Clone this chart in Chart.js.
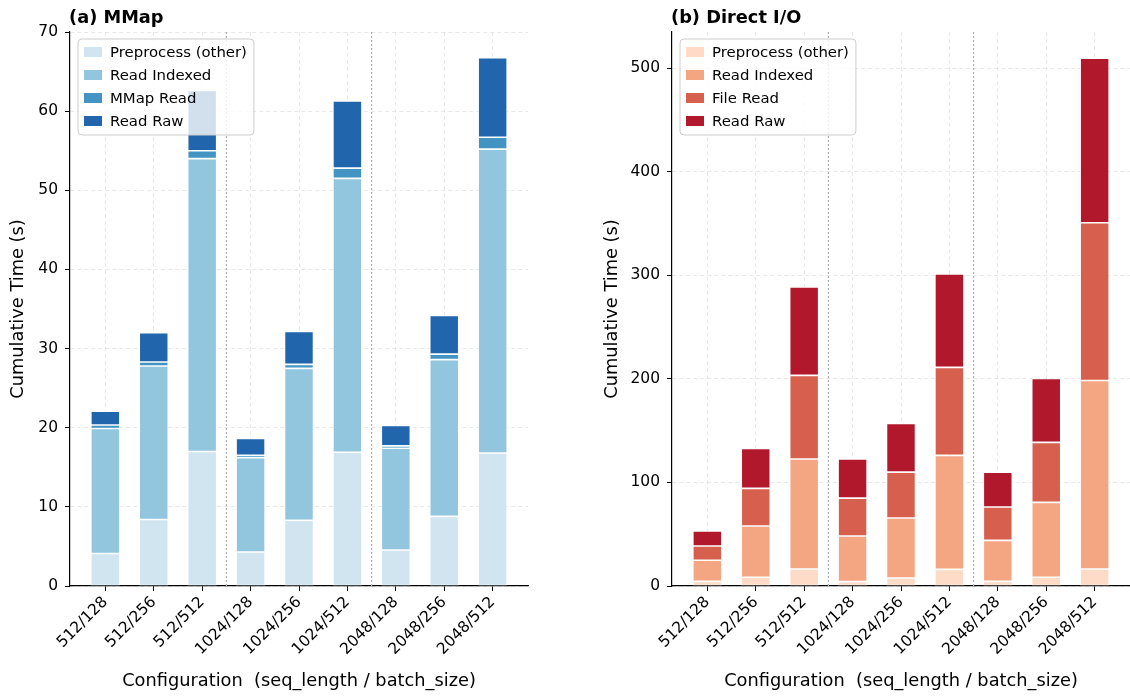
<!DOCTYPE html>
<html>
<head>
<meta charset="utf-8">
<script src="https://cdn.jsdelivr.net/npm/chart.js@4.4.0/dist/chart.umd.min.js"></script>
<style>
  body { margin: 0; background: #fff; }
  .panel { position: absolute; top: 0; }
</style>
</head>
<body>
<canvas id="mmapChart" class="panel" width="565" height="696" style="left:0"></canvas>
<canvas id="directChart" class="panel" width="565" height="696" style="left:565px"></canvas>
<script>
// Configurations (seq_length / batch_size)
const configs = ['512/128', '512/256', '512/512', '1024/128', '1024/256', '1024/512', '2048/128', '2048/256', '2048/512'];

// (a) MMap - seconds per stage
const mmapPreprocess = [4.1, 8.4, 17.0, 4.3, 8.3, 16.9, 4.55, 8.8, 16.8];
const mmapReadIndexed = [15.8, 19.4, 37.0, 11.9, 19.2, 34.6, 12.85, 19.8, 38.4];
const mmapMmapRead = [0.45, 0.5, 1.0, 0.3, 0.5, 1.3, 0.3, 0.7, 1.5];
const mmapReadRaw = [1.75, 3.7, 7.6, 2.15, 4.15, 8.5, 2.6, 4.9, 10.05];

// (b) Direct I/O - seconds per stage
const directPreprocess = [4.5, 8.4, 16.4, 4.2, 7.7, 16.1, 4.5, 8.4, 16.4];
const directReadIndexed = [20.3, 49.5, 106.2, 44.1, 57.9, 110.0, 39.6, 72.4, 182.1];
const directFileRead = [13.8, 36.4, 80.8, 36.6, 44.4, 85.0, 32.2, 57.9, 152.3];
const directReadRaw = [14.5, 38.6, 85.5, 37.7, 47.0, 90.3, 33.7, 61.8, 158.9];

// group separators (between seq_length groups)
const groupBreaks = [2.5, 5.5];

const FONT = "'DejaVu Sans', sans-serif";
const GRID = 'rgba(190, 190, 190, 0.45)';

// title, group separators and in-plot legend
const panelPlugin = {
    id: 'panel',
    afterDatasetsDraw(chart, args, opts) {
        const ctx = chart.ctx;
        const area = chart.chartArea;
        const x = chart.scales.x;
        ctx.save();
        ctx.strokeStyle = '#b0b0b0';
        ctx.lineWidth = 1.2;
        ctx.setLineDash([2, 2]);
        groupBreaks.forEach(b => {
            const px = x.getPixelForValue(b);
            ctx.beginPath();
            ctx.moveTo(px, area.top);
            ctx.lineTo(px, area.bottom);
            ctx.stroke();
        });
        ctx.restore();
    },
    afterDraw(chart, args, opts) {
        const ctx = chart.ctx;
        const area = chart.chartArea;
        ctx.save();
        ctx.fillStyle = '#000';
        ctx.font = 'bold 17.8px ' + FONT;
        ctx.textAlign = 'left';
        ctx.textBaseline = 'alphabetic';
        ctx.fillText(opts.title, area.left - 1, 23);

        // legend box
        ctx.font = '14.9px ' + FONT;
        const items = chart.data.datasets;
        let maxW = 0;
        items.forEach(d => { maxW = Math.max(maxW, ctx.measureText(d.label).width); });
        const bx = area.left + 8, by = area.top + 7;
        const bw = 32 + maxW + 7, bh = 96;
        ctx.beginPath();
        ctx.roundRect(bx, by, bw, bh, 4);
        ctx.fillStyle = 'rgba(255, 255, 255, 0.8)';
        ctx.fill();
        ctx.strokeStyle = '#cccccc';
        ctx.lineWidth = 1;
        ctx.stroke();
        ctx.textBaseline = 'middle';
        items.forEach((d, i) => {
            const cy = by + 13 + i * 23;
            ctx.fillStyle = d.backgroundColor;
            ctx.fillRect(bx + 6, cy - 5, 18, 10);
            ctx.fillStyle = '#000';
            ctx.fillText(d.label, bx + 32, cy + 1);
        });
        ctx.restore();
    }
};

function makeChart(canvasId, title, labels, series, colors, yMax, yStep, yAxisWidth, titlePad, padRight) {
    const ctx = document.getElementById(canvasId).getContext('2d');
    return new Chart(ctx, {
        type: 'bar',
        data: {
            labels: configs.map((c, i) => i),
            datasets: series.map((s, i) => ({
                label: labels[i],
                data: s,
                backgroundColor: colors[i],
                borderColor: '#ffffff',
                borderWidth: 0.8,
                borderSkipped: false,
                barPercentage: 0.6,
                categoryPercentage: 1.0
            }))
        },
        options: {
            responsive: false,
            animation: false,
            events: [],
            layout: { padding: { top: 32, right: padRight, bottom: 0, left: 0 } },
            plugins: {
                legend: { display: false },
                tooltip: { enabled: false },
                panel: { title: title }
            },
            scales: {
                x: {
                    type: 'linear',
                    stacked: true,
                    offset: false,
                    min: -0.73,
                    max: 8.73,
                    z: 1,
                    afterFit: scale => { scale.height = 110; },
                    grid: { offset: false, color: GRID, lineWidth: 0.8, tickColor: '#000', tickLength: 5, tickWidth: 1 },
                    border: { color: '#000', width: 1.2, dash: [4, 3] },
                    ticks: {
                        stepSize: 1,
                        includeBounds: false,
                        minRotation: 45,
                        maxRotation: 45,
                        padding: 2,
                        color: '#000',
                        font: { family: FONT, size: 15.5 },
                        callback: value => configs[value]
                    },
                    title: {
                        display: true,
                        text: 'Configuration  (seq_length / batch_size)',
                        color: '#000',
                        font: { family: FONT, size: 17.8 },
                        padding: { top: 4, bottom: 4.3 }
                    }
                },
                y: {
                    stacked: true,
                    min: 0,
                    max: yMax,
                    z: 1,
                    afterFit: scale => { scale.width = yAxisWidth; },
                    grid: { color: GRID, lineWidth: 0.8, tickColor: '#000', tickLength: 5, tickWidth: 1 },
                    border: { color: '#000', width: 1.2, dash: [4, 3] },
                    ticks: {
                        stepSize: yStep,
                        includeBounds: false,
                        padding: 7,
                        color: '#000',
                        font: { family: FONT, size: 15.5 }
                    },
                    title: {
                        display: true,
                        text: 'Cumulative Time (s)',
                        color: '#000',
                        font: { family: FONT, size: 17.8 },
                        padding: { top: titlePad, bottom: 4 }
                    }
                }
            }
        },
        plugins: [panelPlugin]
    });
}

document.addEventListener('DOMContentLoaded', function () {
    makeChart('mmapChart', '(a) MMap',
        ['Preprocess (other)', 'Read Indexed', 'MMap Read', 'Read Raw'],
        [mmapPreprocess, mmapReadIndexed, mmapMmapRead, mmapReadRaw],
        ['#d1e5f0', '#92c5de', '#4393c3', '#2166ac'],
        70, 10, 70, 7.3, 37);

    makeChart('directChart', '(b) Direct I/O',
        ['Preprocess (other)', 'Read Indexed', 'File Read', 'Read Raw'],
        [directPreprocess, directReadIndexed, directFileRead, directReadRaw],
        ['#fddbc7', '#f4a582', '#d6604d', '#b2182b'],
        535, 100, 107, 36.3, 0);
});
</script>
</body>
</html>
